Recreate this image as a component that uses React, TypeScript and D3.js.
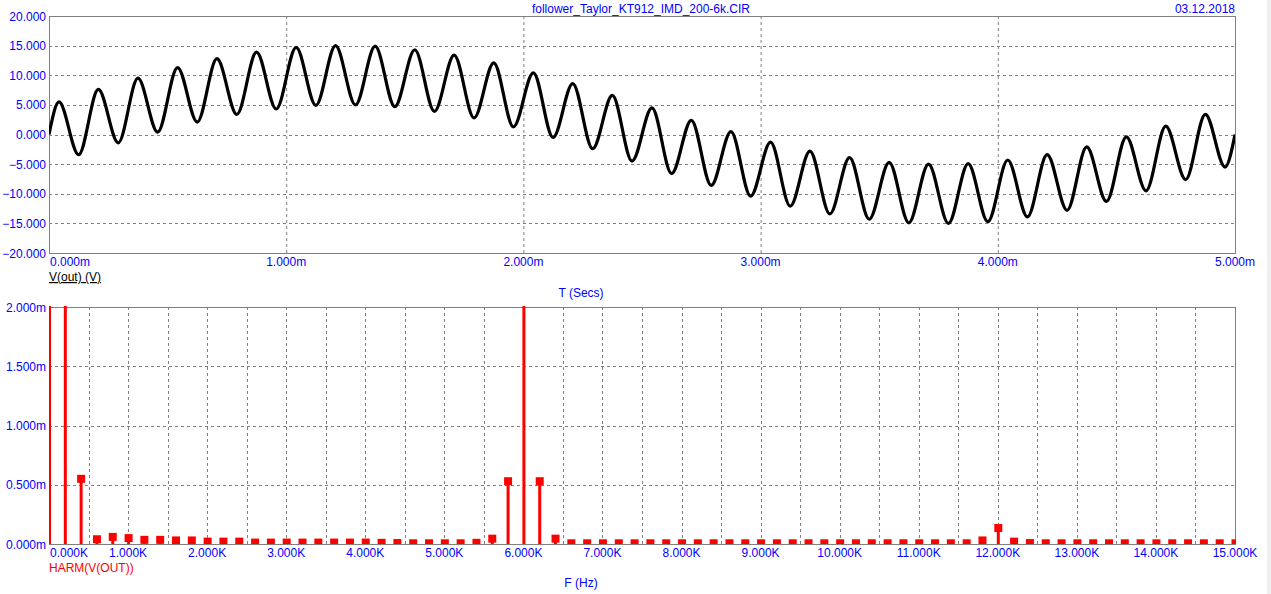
import React from "react";
import * as d3 from "d3";

// ---- Data ----
const chartTitle = "follower_Taylor_KT912_IMD_200-6k.CIR";
const chartDate = "03.12.2018";

// Transient waveform V(out): times (ms) of start, successive peaks/troughs, end
const vTimeMs = [0, 0.042, 0.125, 0.208, 0.292, 0.375, 0.458, 0.542, 0.625, 0.708, 0.792, 0.875, 0.958, 1.042, 1.125, 1.208, 1.292, 1.375, 1.458, 1.542, 1.625, 1.708, 1.792, 1.875, 1.958, 2.042, 2.125, 2.208, 2.292, 2.375, 2.458, 2.542, 2.625, 2.708, 2.792, 2.875, 2.958, 3.042, 3.125, 3.208, 3.292, 3.375, 3.458, 3.542, 3.625, 3.708, 3.792, 3.875, 3.958, 4.042, 4.125, 4.208, 4.292, 4.375, 4.458, 4.542, 4.625, 4.708, 4.792, 4.875, 4.958, 5.0];
const vOut = [0, 5.5, -3.4, 7.6, -1.4, 9.5, 0.4, 11.3, 2.1, 12.8, 3.4, 13.9, 4.3, 14.7, 4.9, 15.0, 5.0, 14.9, 4.7, 14.3, 3.9, 13.4, 2.8, 12.1, 1.3, 10.4, -0.5, 8.6, -2.4, 6.6, -4.5, 4.5, -6.6, 2.4, -8.6, 0.5, -10.4, -1.3, -12.1, -2.8, -13.4, -3.9, -14.3, -4.7, -14.9, -5.0, -15.0, -4.9, -14.7, -4.3, -13.9, -3.4, -12.8, -2.1, -11.3, -0.4, -9.5, 1.4, -7.6, 3.4, -5.5, 0];

// Harmonics HARM(V(OUT)): frequency (Hz) and magnitude (mV)
const harmFreqHz = [0, 200, 400, 600, 800, 1000, 1200, 1400, 1600, 1800, 2000, 2200, 2400, 2600, 2800, 3000, 3200, 3400, 3600, 3800, 4000, 4200, 4400, 4600, 4800, 5000, 5200, 5400, 5600, 5800, 6000, 6200, 6400, 6600, 6800, 7000, 7200, 7400, 7600, 7800, 8000, 8200, 8400, 8600, 8800, 9000, 9200, 9400, 9600, 9800, 10000, 10200, 10400, 10600, 10800, 11000, 11200, 11400, 11600, 11800, 12000, 12200, 12400, 12600, 12800, 13000, 13200, 13400, 13600, 13800, 14000, 14200, 14400, 14600, 14800, 15000];
const harmMag = [3, 10, 0.55, 0.04, 0.06, 0.05, 0.035, 0.035, 0.03, 0.03, 0.02, 0.02, 0.02, 0.012, 0.012, 0.012, 0.012, 0.012, 0.012, 0.012, 0.012, 0.01, 0.008, 0.006, 0.006, 0.006, 0.006, 0.01, 0.045, 0.53, 5, 0.53, 0.045, 0.006, 0.006, 0.006, 0.006, 0.006, 0.006, 0.006, 0.006, 0.006, 0.006, 0.006, 0.006, 0.006, 0.006, 0.006, 0.006, 0.006, 0.006, 0.006, 0.006, 0.006, 0.006, 0.006, 0.006, 0.006, 0.006, 0.03, 0.135, 0.02, 0.008, 0.006, 0.006, 0.006, 0.006, 0.006, 0.006, 0.006, 0.006, 0.006, 0.006, 0.006, 0.006, 0.006];

const topXTicks = [0, 1, 2, 3, 4, 5];
const topYTicks = [20, 15, 10, 5, 0, -5, -10, -15, -20];
const botXTicks = [0, 1, 2, 3, 4, 5, 6, 7, 8, 9, 10, 11, 12, 13, 14, 15];
const botXGrid = [0.5, 1, 1.5, 2, 2.5, 3, 3.5, 4, 4.5, 5, 5.5, 6, 6.5, 7, 7.5, 8, 8.5, 9, 9.5, 10, 10.5, 11, 11.5, 12, 12.5, 13, 13.5, 14, 14.5];
const botYTicks = [2, 1.5, 1, 0.5, 0];

// ---- Layout ----
const W = 1271;
const H = 594;
const X0 = 49;
const X1 = 1235;
const T0 = 16;
const T1 = 253;
const B0 = 307;
const B1 = 544;
const FONT = "'Liberation Sans', Arial, Helvetica, sans-serif";
const BLUE = "#0000ff";
const GRID = "#808080";

export default function App() {
  const xT = d3.scaleLinear().domain([0, 5]).range([X0, X1]);
  const yT = d3.scaleLinear().domain([-20, 20]).range([T1, T0]);
  const xB = d3.scaleLinear().domain([0, 15000]).range([X0, X1]);
  const yB = d3.scaleLinear().domain([0, 2]).range([B1, B0]);

  const pts: [number, number][] = vTimeMs.map((t, i) => [t, vOut[i]]);
  const line = d3
    .line<[number, number]>()
    .x((d) => xT(d[0]))
    .y((d) => yT(d[1]))
    .curve(d3.curveMonotoneX);

  const fmt = d3.format(".3f");

  return (
    <svg
      width={W}
      height={H}
      style={{ position: "fixed", left: 0, top: 0, background: "#ffffff" }}
      fontFamily={FONT}
      fontSize={12}
    >
      <defs>
        <clipPath id="clipTop">
          <rect x={X0} y={T0} width={X1 - X0} height={T1 - T0} />
        </clipPath>
        <clipPath id="clipBot">
          <rect x={X0} y={B0 - 1} width={X1 - X0 + 1} height={B1 - B0 + 1} />
        </clipPath>
      </defs>
      <rect x={0} y={0} width={W} height={H} fill="#ffffff" />
      <rect x={1267} y={0} width={4} height={H} fill="#f0f0f0" />

      {/* Header */}
      <text x={641} y={13} textAnchor="middle" fill={BLUE}>{chartTitle}</text>
      <text x={X1} y={13} textAnchor="end" fill={BLUE}>{chartDate}</text>

      {/* ===== Top plot ===== */}
      <g>
        {topXTicks.slice(1, -1).map((t) => (
          <line key={"tgx" + t} x1={xT(t) + 0.5} x2={xT(t) + 0.5} y1={T0} y2={T1} stroke={GRID} strokeDasharray="3,3" />
        ))}
        {topYTicks.slice(1, -1).map((v) => (
          <line key={"tgy" + v} x1={X0} x2={X1} y1={Math.round(yT(v)) + 0.5} y2={Math.round(yT(v)) + 0.5} stroke={GRID} strokeDasharray="3,3" />
        ))}
        <rect x={X0 + 0.5} y={T0 + 0.5} width={X1 - X0} height={T1 - T0} fill="none" stroke={GRID} strokeWidth={1} />
        <path d={line(pts) || ""} fill="none" stroke="#000000" strokeWidth={3.2} strokeLinejoin="round" clipPath="url(#clipTop)" />
        {topYTicks.map((v) => (
          <text key={"tyl" + v} x={46} y={yT(v) + 4.5} textAnchor="end" fill={BLUE}>{fmt(v)}</text>
        ))}
        {topXTicks.map((t, i) => (
          <text key={"txl" + t} x={i === 0 ? X0 + 1 : xT(t)} y={266} textAnchor={i === 0 ? "start" : "middle"} fill={BLUE}>{fmt(t) + "m"}</text>
        ))}
        <text x={X0} y={281} fill="#000000" textDecoration="underline">V(out) (V)</text>
        <text x={581} y={297} textAnchor="middle" fill={BLUE}>T (Secs)</text>
      </g>

      {/* ===== Bottom plot ===== */}
      <g>
        {botXGrid.map((f) => (
          <line key={"bgx" + f} x1={Math.round(xB(f * 1000)) + 0.5} x2={Math.round(xB(f * 1000)) + 0.5} y1={B0} y2={B1} stroke={GRID} strokeDasharray="3,3" />
        ))}
        {botYTicks.slice(1, -1).map((v) => (
          <line key={"bgy" + v} x1={X0} x2={X1} y1={Math.round(yB(v)) + 0.5} y2={Math.round(yB(v)) + 0.5} stroke={GRID} strokeDasharray="3,3" />
        ))}
        <rect x={X0 + 0.5} y={B0 + 0.5} width={X1 - X0} height={B1 - B0} fill="none" stroke={GRID} strokeWidth={1} />
        <g clipPath="url(#clipBot)">
          {harmFreqHz.map((f, i) => {
            const cx = xB(f);
            const cy = yB(harmMag[i]);
            return (
              <g key={"h" + f}>
                <rect x={cx - 1} y={cy} width={3} height={B1 - cy} fill="#ff0000" />
                <rect x={cx - 3.5} y={cy - 4} width={8} height={8} fill="#ff0000" />
              </g>
            );
          })}
        </g>
        <line x1={X0} x2={X1 + 1} y1={B1 + 0.5} y2={B1 + 0.5} stroke={GRID} />
        {botYTicks.map((v) => (
          <text key={"byl" + v} x={46} y={yB(v) + 4.5} textAnchor="end" fill={BLUE}>{fmt(v) + "m"}</text>
        ))}
        {botXTicks.map((t, i) => (
          <text key={"bxl" + t} x={i === 0 ? X0 + 1 : xB(t * 1000)} y={557} textAnchor={i === 0 ? "start" : "middle"} fill={BLUE}>{fmt(t) + "K"}</text>
        ))}
        <text x={X0} y={572} fill="#ff0000">HARM(V(OUT))</text>
        <text x={581} y={587} textAnchor="middle" fill={BLUE}>F (Hz)</text>
      </g>
    </svg>
  );
}
